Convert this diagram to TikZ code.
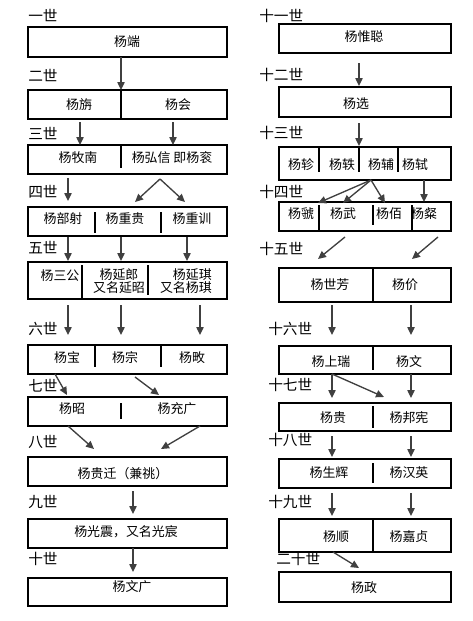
\documentclass[tikz,border=0pt]{standalone}
\usepackage{fontspec}
\setmainfont{Noto Sans CJK SC}
\usetikzlibrary{arrows.meta,fit}
\tikzset{
  box/.style={draw=black, line width=0.8pt, inner sep=0pt},
  div/.style={draw=black, line width=0.8pt},
  arr/.style={draw=black!75, line width=1pt, -{Triangle[length=6pt,width=5.5pt]}},
  txt/.style={font=\fontsize{9.7}{10}\selectfont, inner sep=0pt, text=black},
  gen/.style={font=\fontsize{11}{12}\selectfont, inner sep=0pt, anchor=west, text=black}
}
\begin{document}
\begin{tikzpicture}[x=0.75pt,y=-0.75pt]
\useasboundingbox (0,0) rectangle (472,621);
\fill[white] (0,0) rectangle (472,621);

% ---------- generation labels ----------
\node[gen] (g1) at (28,15) {一世};
\node[gen] (g2) at (28,75) {二世};
\node[gen] (g3) at (28,133) {三世};
\node[gen] (g4) at (28,192) {四世};
\node[gen] (g5) at (28,248) {五世};
\node[gen] (g6) at (28,329) {六世};
\node[gen] (g7) at (28,386) {七世};
\node[gen] (g8) at (28,442) {八世};
\node[gen] (g9) at (28,502) {九世};
\node[gen] (g10) at (28,559) {十世};
\node[gen] (g11) at (259,16) {十一世};
\node[gen] (g12) at (259,75) {十二世};
\node[gen] (g13) at (259,133) {十三世};
\node[gen] (g14) at (259,192) {十四世};
\node[gen] (g15) at (259,249) {十五世};
\node[gen] (g16) at (268,329) {十六世};
\node[gen] (g17) at (268,385) {十七世};
\node[gen] (g18) at (268,440) {十八世};
\node[gen] (g19) at (268,502) {十九世};
\node[gen] (g20) at (276,559) {二十世};

% ---------- left column boxes ----------
\node[box, fit={(28,27)(227,57)}] (b1) {};
\node[box, fit={(28,90)(227,119)}] (b2) {};
\node[box, fit={(28,145)(227,174)}] (b3) {};
\node[box, fit={(28,207)(227,236)}] (b4) {};
\node[box, fit={(28,262)(227,299)}] (b5) {};
\node[box, fit={(28,345)(227,374)}] (b6) {};
\node[box, fit={(28,397)(227,426)}] (b7) {};
\node[box, fit={(28,457)(227,486)}] (b8) {};
\node[box, fit={(28,519)(227,548)}] (b9) {};
\node[box, fit={(28,578)(227,606)}] (b10) {};

% ---------- right column boxes ----------
\node[box, fit={(279,24)(451,53)}] (b11) {};
\node[box, fit={(279,87)(451,117)}] (b12) {};
\node[box, fit={(279,147)(451,180)}] (b13) {};
\node[box, fit={(279,202)(451,231)}] (b14) {};
\node[box, fit={(279,268)(451,302)}] (b15) {};
\node[box, fit={(279,346)(451,374)}] (b16) {};
\node[box, fit={(279,403)(451,431)}] (b17) {};
\node[box, fit={(279,459)(451,488)}] (b18) {};
\node[box, fit={(279,519)(451,552)}] (b19) {};
\node[box, fit={(279,572)(451,602)}] (b20) {};

% ---------- dividers ----------
\draw[div] (121,90) -- (121,119);
\draw[div] (121,145) -- (121,168);
\draw[div] (95,212) -- (95,233);
\draw[div] (161,212) -- (161,233);
\draw[div] (82,265) -- (82,299);
\draw[div] (148,265) -- (148,295);
\draw[div] (95,345) -- (95,367);
\draw[div] (161,345) -- (161,367);
\draw[div] (121,403) -- (121,419);
\draw[div] (319,147) -- (319,172);
\draw[div] (359,147) -- (359,172);
\draw[div] (398,147) -- (398,172);
\draw[div] (319,205) -- (319,230);
\draw[div] (373,205) -- (373,225);
\draw[div] (412,205) -- (412,231);
\draw[div] (373,268) -- (373,302);
\draw[div] (373,346) -- (373,370);
\draw[div] (373,406) -- (373,428);
\draw[div] (373,463) -- (373,483);
\draw[div] (373,519) -- (373,552);

% ---------- left texts ----------
\node[txt] (t1) at (127,42) {杨端};
\node[txt] (t2a) at (79,105) {杨旃};
\node[txt] (t2b) at (178,105) {杨会};
\node[txt] (t3a) at (78,158) {杨牧南};
\node[txt] (t3b) at (172,158) {杨弘信 即杨衮};
\node[txt] (t4a) at (63,219) {杨部射};
\node[txt] (t4b) at (125,219) {杨重贵};
\node[txt] (t4c) at (192,219) {杨重训};
\node[txt] (t5a) at (60,276) {杨三公};
\node[txt, align=center] (t5b) at (119,281) {杨延郎\\又名延昭};
\node[txt, align=right, anchor=east] (t5c) at (212,281) {杨延琪\\又名杨琪};
\node[txt] (t6a) at (67,358) {杨宝};
\node[txt] (t6b) at (125,358) {杨宗};
\node[txt] (t6c) at (192,358) {杨畋};
\node[txt] (t7a) at (72,409) {杨昭};
\node[txt] (t7b) at (177,409) {杨充广};
\node[txt] (t8) at (123,474) {杨贵迁（兼祧）};
\node[txt] (t9) at (126,532) {杨光震，又名光宸};
\node[txt] (t10) at (132,587) {杨文广};

% ---------- right texts ----------
\node[txt] (t11) at (364,37) {杨惟聪};
\node[txt] (t12) at (356,104) {杨选};
\node[txt] (t13a) at (301,165) {杨轸};
\node[txt] (t13b) at (342,165) {杨轶};
\node[txt] (t13c) at (381,165) {杨辅};
\node[txt] (t13d) at (415,165) {杨轼};
\node[txt] (t14a) at (301,214) {杨虢};
\node[txt] (t14b) at (343,214) {杨武};
\node[txt] (t14c) at (389,214) {杨佰};
\node[txt] (t14d) at (424,214) {杨粲};
\node[txt] (t15a) at (330,285) {杨世芳};
\node[txt] (t15b) at (405,285) {杨价};
\node[txt] (t16a) at (331,362) {杨上瑞};
\node[txt] (t16b) at (409,362) {杨文};
\node[txt] (t17a) at (333,418) {杨贵};
\node[txt] (t17b) at (409,418) {杨邦宪};
\node[txt] (t18a) at (329,473) {杨生辉};
\node[txt] (t18b) at (409,473) {杨汉英};
\node[txt] (t19a) at (336,537) {杨顺};
\node[txt] (t19b) at (409,537) {杨嘉贞};
\node[txt] (t20) at (364,588) {杨政};

% ---------- arrow end points ----------
\coordinate (a2s) at (121,57);   \coordinate (a2e) at (121,90);
\coordinate (a3as) at (80,122);  \coordinate (a3ae) at (80,145);
\coordinate (a3bs) at (173,122); \coordinate (a3be) at (173,145);
\coordinate (a4as) at (68,178);  \coordinate (a4ae) at (68,201);
\coordinate (a4s) at (160,179);
\coordinate (a4be) at (135,202); \coordinate (a4ce) at (185,202);
\coordinate (a5as) at (68,237);  \coordinate (a5ae) at (68,261);
\coordinate (a5bs) at (121,237); \coordinate (a5be) at (121,261);
\coordinate (a5cs) at (187,237); \coordinate (a5ce) at (187,261);
\coordinate (a6as) at (68,305);  \coordinate (a6ae) at (68,335);
\coordinate (a6bs) at (121,305); \coordinate (a6be) at (121,335);
\coordinate (a6cs) at (200,305); \coordinate (a6ce) at (200,335);
\coordinate (a7as) at (55,374);  \coordinate (a7ae) at (67,395);
\coordinate (a7bs) at (135,377); \coordinate (a7be) at (159,395);
\coordinate (a8as) at (68,426);  \coordinate (a8ae) at (94,449);
\coordinate (a8bs) at (200,426); \coordinate (a8be) at (161,449);
\coordinate (a9s) at (133,491);  \coordinate (a9e) at (133,514);
\coordinate (a10s) at (133,548); \coordinate (a10e) at (133,572);
\coordinate (a12s) at (359,63);  \coordinate (a12e) at (359,86);
\coordinate (a13s) at (359,123); \coordinate (a13e) at (359,146);
\coordinate (a14s) at (371,180);
\coordinate (a14ae) at (318,203); \coordinate (a14be) at (343,203);
\coordinate (a14ce) at (385,203);
\coordinate (a14ds) at (424,180); \coordinate (a14de) at (424,202);
\coordinate (a15as) at (345,237); \coordinate (a15ae) at (318,259);
\coordinate (a15bs) at (438,237); \coordinate (a15be) at (412,259);
\coordinate (a16as) at (332,305); \coordinate (a16ae) at (332,335);
\coordinate (a16bs) at (411,305); \coordinate (a16be) at (411,335);
\coordinate (a17as) at (332,374); \coordinate (a17ae) at (332,398);
\coordinate (a17bs) at (411,374); \coordinate (a17be) at (411,398);
\coordinate (a17ce) at (384,397);
\coordinate (a18as) at (332,436); \coordinate (a18ae) at (332,457);
\coordinate (a18bs) at (411,436); \coordinate (a18be) at (411,457);
\coordinate (a19as) at (332,493); \coordinate (a19ae) at (332,516);
\coordinate (a19bs) at (411,493); \coordinate (a19be) at (411,516);
\coordinate (a20s) at (333,552); \coordinate (a20e) at (359,568);

% ---------- arrows ----------
\foreach \s/\e in {a2s/a2e, a3as/a3ae, a3bs/a3be, a4as/a4ae, a4s/a4be, a4s/a4ce,
  a5as/a5ae, a5bs/a5be, a5cs/a5ce, a6as/a6ae, a6bs/a6be, a6cs/a6ce,
  a7as/a7ae, a7bs/a7be, a8as/a8ae, a8bs/a8be, a9s/a9e, a10s/a10e,
  a12s/a12e, a13s/a13e, a14s/a14ae, a14s/a14be, a14s/a14ce, a14ds/a14de,
  a15as/a15ae, a15bs/a15be, a16as/a16ae, a16bs/a16be,
  a17as/a17ae, a17bs/a17be, a17as/a17ce, a18as/a18ae, a18bs/a18be,
  a19as/a19ae, a19bs/a19be, a20s/a20e}
  \draw[arr] (\s) -- (\e);
\end{tikzpicture}
\end{document}
